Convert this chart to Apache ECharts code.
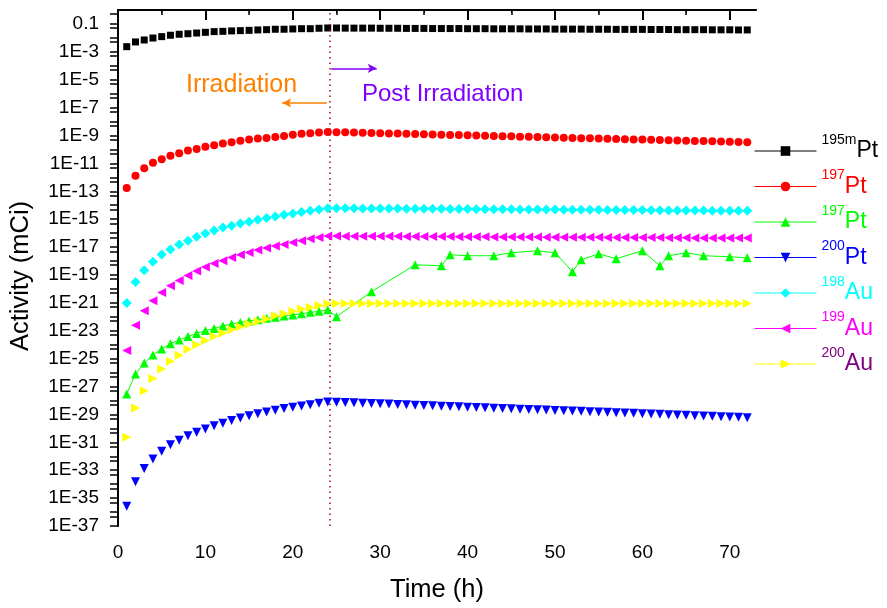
<!DOCTYPE html>
<html>
<head>
<meta charset="utf-8">
<script src="https://cdn.jsdelivr.net/npm/echarts@6/dist/echarts.min.js"></script>
<style>
html,body{margin:0;padding:0;background:#fff;}
#chart{width:887px;height:608px;}
</style>
</head>
<body>
<div id="chart"></div>
<script>
// Time points (h)
const hours = [
  1,2,3,4,5,6,7,8,9,10,11,12,
  13,14,15,16,17,18,19,20,21,22,23,24,
  25,26,27,28,29,30,31,32,33,34,35,36,
  37,38,39,40,41,42,43,44,45,46,47,48,
  49,50,51,52,53,54,55,56,57,58,59,60,
  61,62,63,64,65,66,67,68,69,70,71,72
];
// Activities, stored as log10(Activity / mCi)
const pt195m = [
  -2.63,-2.29,-2.15,-2.01,-1.91,-1.81,-1.74,-1.70,-1.65,-1.60,-1.55,-1.53,
  -1.50,-1.48,-1.46,-1.43,-1.41,-1.38,-1.38,-1.36,-1.34,-1.34,-1.31,-1.29,
  -1.29,-1.30,-1.30,-1.30,-1.30,-1.31,-1.31,-1.31,-1.32,-1.32,-1.32,-1.33,
  -1.33,-1.33,-1.33,-1.34,-1.34,-1.34,-1.35,-1.35,-1.35,-1.35,-1.36,-1.36,
  -1.36,-1.37,-1.37,-1.37,-1.37,-1.38,-1.38,-1.38,-1.39,-1.39,-1.39,-1.39,
  -1.40,-1.40,-1.40,-1.41,-1.41,-1.41,-1.41,-1.42,-1.42,-1.42,-1.43,-1.43
];
const pt197 = [
  -12.77,-11.89,-11.34,-10.96,-10.70,-10.46,-10.27,-10.08,-9.96,-9.81,-9.69,-9.58,
  -9.48,-9.38,-9.29,-9.22,-9.17,-9.10,-9.03,-8.95,-8.88,-8.83,-8.79,-8.74,
  -8.76,-8.77,-8.79,-8.80,-8.82,-8.83,-8.85,-8.86,-8.88,-8.89,-8.91,-8.92,
  -8.94,-8.96,-8.97,-8.99,-9.00,-9.02,-9.03,-9.05,-9.06,-9.08,-9.09,-9.11,
  -9.12,-9.14,-9.16,-9.17,-9.19,-9.20,-9.22,-9.23,-9.25,-9.26,-9.28,-9.29,
  -9.31,-9.33,-9.34,-9.36,-9.37,-9.39,-9.40,-9.42,-9.43,-9.45,-9.46,-9.48
];
// second 197Pt curve (green) has its own, irregular time points after 24 h
const pt197bHours = [
  1,2,3,4,5,6,7,8,9,10,11,12,
  13,14,15,16,17,18,19,20,21,22,23,24,
  25,29,34,37,38,40,43,45,48,50,52,53,55,57,60,62,63,65,67,70,72
];
const pt197b = [
  -27.53,-26.10,-25.31,-24.74,-24.31,-23.93,-23.66,-23.42,-23.19,-22.99,-22.83,-22.66,
  -22.51,-22.40,-22.30,-22.21,-22.11,-22.04,-21.94,-21.87,-21.78,-21.68,-21.61,-21.49,
  -21.99,-20.20,-18.27,-18.34,-17.55,-17.62,-17.62,-17.41,-17.26,-17.41,-18.77,-17.91,
  -17.48,-17.84,-17.26,-18.34,-17.62,-17.41,-17.62,-17.69,-17.77
];
const pt200 = [
  -35.58,-33.83,-32.88,-32.19,-31.64,-31.18,-30.85,-30.52,-30.28,-30.04,-29.82,-29.63,
  -29.44,-29.25,-29.10,-28.96,-28.82,-28.70,-28.58,-28.49,-28.39,-28.30,-28.20,-28.10,
  -28.12,-28.15,-28.17,-28.19,-28.22,-28.24,-28.26,-28.29,-28.31,-28.34,-28.36,-28.38,
  -28.41,-28.43,-28.45,-28.48,-28.50,-28.52,-28.55,-28.57,-28.59,-28.62,-28.64,-28.66,
  -28.69,-28.71,-28.73,-28.76,-28.78,-28.81,-28.83,-28.85,-28.88,-28.90,-28.92,-28.95,
  -28.97,-28.99,-29.02,-29.04,-29.06,-29.09,-29.11,-29.13,-29.16,-29.18,-29.20,-29.23
];
const au198 = [
  -21.01,-19.51,-18.67,-18.05,-17.53,-17.17,-16.81,-16.55,-16.26,-16.02,-15.81,-15.59,
  -15.47,-15.31,-15.19,-15.04,-14.92,-14.81,-14.68,-14.59,-14.49,-14.40,-14.31,-14.21,
  -14.21,-14.22,-14.22,-14.23,-14.23,-14.23,-14.24,-14.24,-14.25,-14.25,-14.25,-14.26,
  -14.26,-14.27,-14.27,-14.27,-14.28,-14.28,-14.29,-14.29,-14.29,-14.30,-14.30,-14.31,
  -14.31,-14.31,-14.32,-14.32,-14.33,-14.33,-14.33,-14.34,-14.34,-14.35,-14.35,-14.35,
  -14.36,-14.36,-14.37,-14.37,-14.37,-14.38,-14.38,-14.39,-14.39,-14.39,-14.40,-14.40
];
const au199 = [
  -24.41,-22.61,-21.56,-20.85,-20.25,-19.77,-19.39,-19.03,-18.72,-18.43,-18.17,-17.98,
  -17.74,-17.55,-17.39,-17.21,-17.07,-16.93,-16.81,-16.67,-16.55,-16.40,-16.31,-16.21,
  -16.21,-16.22,-16.22,-16.22,-16.23,-16.23,-16.23,-16.23,-16.24,-16.24,-16.24,-16.25,
  -16.25,-16.25,-16.26,-16.26,-16.26,-16.26,-16.27,-16.27,-16.27,-16.28,-16.28,-16.28,
  -16.29,-16.29,-16.29,-16.29,-16.30,-16.30,-16.30,-16.31,-16.31,-16.31,-16.32,-16.32,
  -16.32,-16.32,-16.33,-16.33,-16.33,-16.34,-16.34,-16.34,-16.35,-16.35,-16.35,-16.35
];
const au200 = [
  -30.64,-28.53,-27.31,-26.43,-25.74,-25.19,-24.76,-24.33,-24.00,-23.69,-23.40,-23.16,
  -22.92,-22.71,-22.51,-22.33,-22.16,-21.92,-21.78,-21.61,-21.44,-21.33,-21.18,-21.06,
  -21.04,-21.04,-21.04,-21.04,-21.04,-21.04,-21.04,-21.04,-21.04,-21.04,-21.04,-21.04,
  -21.04,-21.04,-21.04,-21.04,-21.04,-21.04,-21.04,-21.04,-21.04,-21.04,-21.04,-21.04,
  -21.04,-21.04,-21.04,-21.04,-21.04,-21.04,-21.04,-21.04,-21.04,-21.04,-21.04,-21.04,
  -21.04,-21.04,-21.04,-21.04,-21.04,-21.04,-21.04,-21.04,-21.04,-21.04,-21.04,-21.04
];
// Axis tick labels (exponents of the log axis)
const yMajorTicks = [-37,-35,-33,-31,-29,-27,-25,-23,-21,-19,-17,-15,-13,-11,-9,-7,-5,-3,-1];
const xMajorTicks = [0,10,20,30,40,50,60,70];
const xTopTicks = [5,10,15,20,25,30,35,40,45,50,55,60,65,70];
// Legend labels: [superscript mass number, element]
const legendSup = ['195m','197','197','200','198','199','200'];
const legendMain = ['Pt','Pt','Pt','Pt','Au','Au','Au'];
const seriesNames = ['195mPt','197Pt (a)','197Pt (b)','200Pt','198Au','199Au','200Au'];

// all tick marks of the log axis: each decade 10^k and 5x10^(k-1)
const yAllTicks = [];
for (let k = 0; k >= -37; k--) {
  if (k < 0) yAllTicks.push(k);
  if (k - 0.30103 > -37) yAllTicks.push(k - 0.30103);
}

const FONT = '"Liberation Sans", Arial, Helvetica, sans-serif';
const colors = ['#000000','#ff0000','#00ff00','#0000ff','#00ffff','#ff00ff','#ffff00'];
const textColors = ['#000000','#ff0000','#00ff00','#0000ff','#00ffff','#ff00ff','#800080'];
const symbols = ['rect','circle','triangle','triangle','diamond','triangle','triangle'];
const rotates = [0,0,0,180,0,90,-90];
const sizes = [7,8,9,9,10,9,9];

function pairs(xs, ys){ return xs.map((x,i)=>[x, ys[i]]); }
const seriesData = [
  pairs(hours, pt195m), pairs(hours, pt197), pairs(pt197bHours, pt197b),
  pairs(hours, pt200), pairs(hours, au198), pairs(hours, au199), pairs(hours, au200)
];

const rich = {};
for (let i = 0; i < 7; i++) {
  rich['s'+i] = {fontSize:14, color:textColors[i], fontFamily:FONT, verticalAlign:'top'};
  rich['m'+i] = {fontSize:23, color:textColors[i], fontFamily:FONT, verticalAlign:'middle', lineHeight:36};
}

const series = seriesData.map((d, i) => ({
  name: seriesNames[i],
  type: 'line',
  data: d,
  symbol: symbols[i],
  symbolSize: sizes[i],
  symbolRotate: rotates[i],
  showAllSymbol: true,
  itemStyle: {color: colors[i]},
  lineStyle: {color: colors[i], width: 1, opacity: i === 2 ? 1 : 0},
  z: 3 + i
}));

// annotation lines: irradiation end marker and arrows
series.push({
  name: 'annotations',
  type: 'line',
  data: [],
  silent: true,
  markLine: {
    silent: true,
    animation: false,
    label: {show: false},
    data: [
      [{coord:[24.25,-37], symbol:'none', lineStyle:{color:'#a01010', width:1.5, type:[1.5,4]}},
       {coord:[24.25,0], symbol:'none'}],
      [{coord:[23.9,-6.66], symbol:'none', lineStyle:{color:'#ff8000', width:1.5, type:'solid'}},
       {coord:[18.8,-6.66], symbol:'arrow', symbolSize:[7,9]}],
      [{coord:[24.4,-4.18], symbol:'none', lineStyle:{color:'#8000ff', width:1.5, type:'solid'}},
       {coord:[29.6,-4.18], symbol:'arrow', symbolSize:[7,9]}]
    ]
  }
});

const option = {
  animation: false,
  backgroundColor: '#fff',
  textStyle: {fontFamily: FONT},
  grid: {left: 118, right: 131, top: 10, bottom: 82},
  xAxis: [{
    type: 'value', min: 0, max: 73, interval: 10, position: 'bottom',
    name: 'Time (h)', nameLocation: 'middle', nameGap: 51,
    nameTextStyle: {fontSize: 25.5, color: '#000', fontFamily: FONT},
    axisLine: {show: true, lineStyle: {color: '#000', width: 2}},
    axisTick: {show: true, inside: false, length: 10, customValues: xMajorTicks, lineStyle: {color: '#000', width: 2}},
    minorTick: {show: true, splitNumber: 2, length: 5, lineStyle: {color: '#000', width: 1.5}},
    axisLabel: {customValues: xMajorTicks, margin: 17, fontSize: 19, color: '#000', fontFamily: FONT},
    splitLine: {show: false}
  }, {
    type: 'value', min: 0, max: 73, position: 'top',
    axisLine: {show: true, lineStyle: {color: '#000', width: 1.5}},
    axisTick: {show: true, inside: true, length: 3, customValues: xTopTicks, lineStyle: {color: '#000', width: 1}},
    axisLabel: {show: false},
    splitLine: {show: false}
  }],
  yAxis: [{
    type: 'value', min: -37, max: 0, position: 'left',
    name: 'Activity (mCi)', nameLocation: 'middle', nameGap: 84, nameRotate: 90,
    nameTextStyle: {fontSize: 25.5, color: '#000', fontFamily: FONT, padding: [0, 16, 0, 0]},
    axisLine: {show: true, lineStyle: {color: '#000', width: 2}},
    axisTick: {show: true, inside: false, length: 8, customValues: yAllTicks, lineStyle: {color: '#000', width: 1.5}},
    axisLabel: {
      customValues: yMajorTicks, margin: 19, fontSize: 19, color: '#000', fontFamily: FONT,
      formatter: v => (Math.round(v) === -1 ? '0.1' : '1E' + Math.round(v))
    },
    splitLine: {show: false}
  }, {
    type: 'value', min: -37, max: 0, position: 'right',
    axisLine: {show: true, lineStyle: {color: '#000', width: 1.5}},
    axisTick: {show: false},
    axisLabel: {show: false},
    splitLine: {show: false}
  }],
  legend: {
    orient: 'vertical',
    left: 754, top: 133,
    padding: 0,
    itemGap: 6,
    itemWidth: 62, itemHeight: 12,
    selectedMode: false,
    data: seriesNames,
    lineStyle: {width: 1, opacity: 1},
    formatter: name => {
      const i = seriesNames.indexOf(name);
      return '{s' + i + '|' + legendSup[i] + '}{m' + i + '|' + legendMain[i] + '}';
    },
    textStyle: {rich: rich, fontFamily: FONT}
  },
  graphic: [
    {type: 'text', left: 186, top: 73, z: 100,
     style: {text: 'Irradiation', fill: '#ff8000', font: '25px ' + FONT}},
    {type: 'text', left: 362, top: 82, z: 100,
     style: {text: 'Post Irradiation', fill: '#8000ff', font: '24px ' + FONT}}
  ],
  series: series
};

const chart = echarts.init(document.getElementById('chart'), null, {renderer: 'canvas'});
chart.setOption(option);
</script>
</body>
</html>
